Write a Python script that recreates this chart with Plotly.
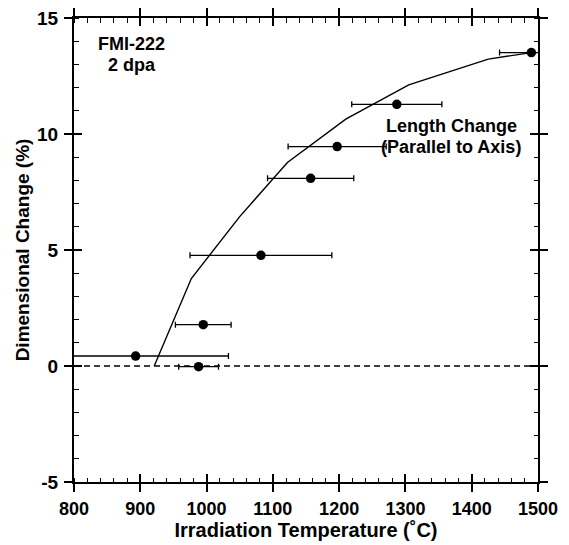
import plotly.graph_objects as go

# ---- data ----
temps = [893, 995, 988, 1082, 1157, 1197, 1287, 1490]
changes = [0.43, 1.78, -0.03, 4.77, 8.09, 9.46, 11.28, 13.51]
temp_err = [140, 42, 30, 107, 65, 74, 68, 48]

fit_temps = [921, 977, 1050, 1122, 1210, 1305, 1425, 1490]
fit_changes = [0.0, 3.77, 6.44, 8.77, 10.64, 12.12, 13.23, 13.51]

zero_level = 0

x_range = [800, 1500]
y_range = [-5, 15]
x_ticks = [800, 900, 1000, 1100, 1200, 1300, 1400, 1500]
x_ticklabels = ["800", "900", "1000", "1100", "1200", "1300", "1400", "1500"]
y_ticks = [-5, 0, 5, 10, 15]
y_ticklabels = ["-5", "0", "5", "10", "15"]

FONT = "Liberation Sans"

def b(s):
    return "<b>" + s + "</b>"

fig = go.Figure()

fig.add_trace(go.Scatter(
    x=fit_temps, y=fit_changes, mode="lines",
    line=dict(color="black", width=1.4),
    showlegend=False, hoverinfo="skip",
    xaxis="x2", yaxis="y2",
))

fig.add_trace(go.Scatter(
    x=temps, y=changes, mode="markers",
    marker=dict(color="black", size=9.5),
    error_x=dict(type="data", array=temp_err, visible=True,
                 color="black", thickness=1.3, width=3),
    showlegend=False,
))

fig.add_shape(type="line", xref="x domain", yref="y",
              x0=0, x1=1, y0=zero_level, y1=zero_level,
              line=dict(color="black", width=1.3, dash="6px,4px"))

common = dict(
    showgrid=False, zeroline=False, showline=True, linecolor="black",
    linewidth=2, ticks="outside", ticklen=8, tickwidth=1.5, tickcolor="black",
    mirror="allticks", automargin=False,
)

fig.update_layout(
    width=569, height=545,
    margin=dict(l=74, r=31, t=18, b=63),
    plot_bgcolor="white", paper_bgcolor="white",
    xaxis=dict(range=x_range, tickvals=x_ticks, ticktext=[b(t) for t in x_ticklabels], **common,
               tickfont=dict(family=FONT, size=18, color="black"),
               minor=dict(dtick=20, ticks="inside", ticklen=4.5, tickwidth=1.2,
                          tickcolor="black", showgrid=False),
               title=dict(text=b("Irradiation Temperature (˚C)"),
                          font=dict(family=FONT, size=20, color="black"), standoff=5),
               ticklabelstandoff=1),
    yaxis=dict(range=y_range, tickvals=y_ticks, ticktext=[b(t) for t in y_ticklabels], **common,
               tickfont=dict(family=FONT, size=19, color="black"),
               minor=dict(dtick=1, ticks="inside", ticklen=4.5, tickwidth=1.2,
                          tickcolor="black", showgrid=False),
               title=dict(text=b("Dimensional Change (%)"),
                          font=dict(family=FONT, size=19, color="black"), standoff=2),
               ticklabelstandoff=2),
    xaxis2=dict(range=x_range, tickvals=x_ticks, overlaying="x", matches="x",
                showgrid=False, zeroline=False, showline=False,
                ticks="inside", ticklen=8, tickwidth=1.5, tickcolor="black",
                mirror="allticks", showticklabels=False, anchor="y2", side="bottom"),
    yaxis2=dict(range=y_range, tickvals=y_ticks, overlaying="y", matches="y",
                showgrid=False, zeroline=False, showline=False,
                ticks="inside", ticklen=8, tickwidth=1.5, tickcolor="black",
                mirror="allticks", showticklabels=False, anchor="x2", side="left"),
)

ann_font = dict(family=FONT, size=18, color="black")
labels = [
    ("FMI-222", 887, 13.87),
    ("2 dpa", 887, 12.97),
    ("Length Change", 1369, 10.35),
    ("(Parallel to Axis)", 1369, 9.44),
]
for text, ax_, ay_ in labels:
    fig.add_annotation(text=b(text), x=ax_, y=ay_, xref="x", yref="y",
                       showarrow=False, font=ann_font, xanchor="center", yanchor="middle")

fig.write_html("out.html")
